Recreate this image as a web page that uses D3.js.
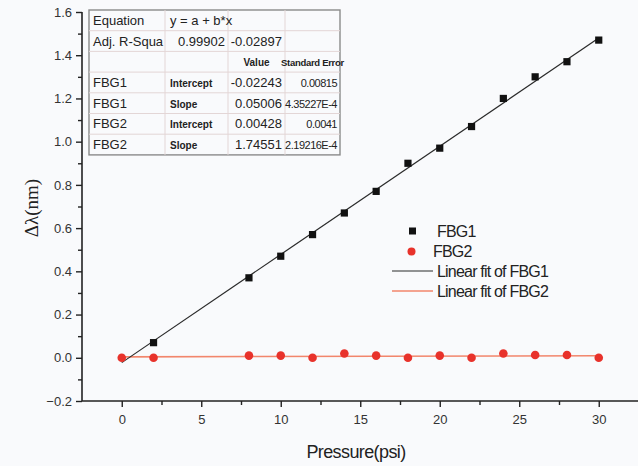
<!DOCTYPE html>
<html lang="en">
<head>
  <meta charset="utf-8">
  <title>FBG pressure response</title>
  <script src="https://cdn.jsdelivr.net/npm/d3@7"></script>
  <style>
    body { margin: 0; background: #f9fafc; }
    svg { display: block; }
    .tick text { font: 13px Arial, "Liberation Sans", sans-serif; fill: #333; }
    .tbl { font-family: Arial, "Liberation Sans", sans-serif; fill: #222; }
  </style>
</head>
<body>
<div id="chart"></div>
<script>
// measured points
const pressure = [0, 2, 8, 10, 12, 14, 16, 18, 20, 22, 24, 26, 28, 30];
const fbg1 = [0.0, 0.07, 0.37, 0.47, 0.57, 0.67, 0.77, 0.90, 0.97, 1.07, 1.20, 1.30, 1.37, 1.47];
const fbg2 = [0.0, 0.0, 0.01, 0.01, 0.0, 0.02, 0.01, 0.0, 0.01, 0.0, 0.02, 0.013, 0.013, 0.0];

// fit results (from the table)
const fit1 = { a: -0.02243, b: 0.05006 };
const fit2 = { a: 0.00428, b: 1.74551e-4 };

const xTicks = [0, 5, 10, 15, 20, 25, 30];
const yTicks = [-0.2, 0.0, 0.2, 0.4, 0.6, 0.8, 1.0, 1.2, 1.4, 1.6];

const tableRows = [
  ["Equation", "y = a + b*x", "", ""],
  ["Adj. R-Squa", "0.99902", "-0.02897", ""],
  ["", "", "Value", "Standard Error"],
  ["FBG1", "Intercept", "-0.02243", "0.00815"],
  ["FBG1", "Slope", "0.05006", "4.35227E-4"],
  ["FBG2", "Intercept", "0.00428", "0.0041"],
  ["FBG2", "Slope", "1.74551", "2.19216E-4"]
];

const W = 638, H = 466;
const svg = d3.select("#chart").append("svg").attr("width", W).attr("height", H);

const x = d3.scaleLinear().domain([-2.5, 32.5]).range([82, 638.5]);
const y = d3.scaleLinear().domain([-0.2, 1.6]).range([401, 12]);

// axes
const xAxis = svg.append("g").attr("transform", `translate(0,${y(-0.2)})`)
  .call(d3.axisBottom(x).tickValues(xTicks).tickFormat(d3.format("d")).tickSize(6).tickPadding(8));
svg.append("g").attr("transform", `translate(0,${y(-0.2)})`)
  .call(d3.axisBottom(x).tickValues(d3.range(2.5, 32.5, 5)).tickFormat("").tickSize(4))
  .select(".domain").remove();

const yAxis = svg.append("g").attr("transform", `translate(${x(-2.5)},0)`)
  .call(d3.axisLeft(y).tickValues(yTicks).tickFormat(d3.format(".1f")).tickSize(6).tickPadding(4));
svg.append("g").attr("transform", `translate(${x(-2.5)},0)`)
  .call(d3.axisLeft(y).tickValues(d3.range(-0.1, 1.6, 0.2)).tickFormat("").tickSize(4))
  .select(".domain").remove();

svg.selectAll(".domain").attr("stroke", "#222").attr("stroke-width", 1.6);
svg.selectAll(".tick line").attr("stroke", "#222").attr("stroke-width", 1.4);
xAxis.select(".domain").attr("d", `M${x(-2.5)},0H${x(32.5)}`);
yAxis.select(".domain").attr("d", `M0,${y(1.6)}V${y(-0.2)}`);

// axis titles
svg.append("text")
  .attr("x", 356).attr("y", 458)
  .attr("text-anchor", "middle")
  .attr("font-family", "Arial, 'Liberation Sans', sans-serif")
  .attr("font-size", 18).attr("letter-spacing", -0.6).attr("fill", "#222")
  .text("Pressure(psi)");
svg.append("text")
  .attr("transform", "translate(38,208) rotate(-90)")
  .attr("text-anchor", "middle")
  .attr("font-family", "'Liberation Serif', 'DejaVu Serif', serif")
  .attr("font-size", 19).attr("fill", "#222")
  .text("Δλ(nm)");

// fit lines
const fitLine = (f) => [[0, f.a], [30, f.a + f.b * 30]];
const line = d3.line().x(d => x(d[0])).y(d => y(d[1]));
svg.append("path").attr("d", line(fitLine(fit2)))
  .attr("fill", "none").attr("stroke", "#f2866c").attr("stroke-width", 1.6);
svg.append("path").attr("d", line(fitLine(fit1)))
  .attr("fill", "none").attr("stroke", "#2a2a2a").attr("stroke-width", 1.2);

// points
svg.append("g").selectAll("circle")
  .data(pressure.map((p, i) => [p, fbg2[i]]))
  .join("circle")
  .attr("cx", d => x(d[0])).attr("cy", d => y(d[1]))
  .attr("r", 4.3).attr("fill", "#e8322b");
svg.append("g").selectAll("rect")
  .data(pressure.map((p, i) => [p, fbg1[i]]).filter(d => d[0] > 0))
  .join("rect")
  .attr("x", d => x(d[0]) - 3.6).attr("y", d => y(d[1]) - 3.6)
  .attr("width", 7.2).attr("height", 7.2).attr("fill", "#111");

// results table
const colX = [89, 165, 228, 285, 340];
const rowH = 20.7, tblTop = 10;
const tbl = svg.append("g");
tbl.append("rect")
  .attr("x", colX[0]).attr("y", tblTop)
  .attr("width", colX[4] - colX[0]).attr("height", rowH * tableRows.length)
  .attr("fill", "#f9fafc").attr("stroke", "#8a8a8a").attr("stroke-width", 1.4);
for (let i = 1; i < tableRows.length; i++) {
  tbl.append("line")
    .attr("x1", colX[0]).attr("x2", colX[4])
    .attr("y1", tblTop + i * rowH).attr("y2", tblTop + i * rowH)
    .attr("stroke", "#e3d6d6").attr("stroke-width", 1);
}
for (let j = 1; j < 4; j++) {
  tbl.append("line")
    .attr("x1", colX[j]).attr("x2", colX[j])
    .attr("y1", tblTop).attr("y2", tblTop + rowH * tableRows.length)
    .attr("stroke", "#e3d6d6").attr("stroke-width", 1);
}
const small = new Set(["Intercept", "Slope", "Value", "Standard Error"]);
tableRows.forEach((row, i) => {
  row.forEach((txt, j) => {
    if (!txt) return;
    const cy = tblTop + i * rowH + rowH / 2 + 4.5;
    let tx, anchor, size = 13, ls = 0;
    if (j === 0) { tx = colX[0] + 4; anchor = "start"; }
    else if (i === 0 || small.has(txt) && j === 1) { tx = colX[j] + 5; anchor = "start"; }
    else if (i === 2) { tx = (colX[j] + colX[j + 1]) / 2; anchor = "middle"; }
    else { tx = colX[j + 1] - 3; anchor = "end"; }
    if (small.has(txt)) size = 10;
    if (j === 3 && i > 2) { size = 11; ls = -0.5; }
    if (i === 2 && j === 3) { size = 9.5; ls = -0.3; }
    tbl.append("text").attr("class", "tbl")
      .attr("x", tx).attr("y", cy).attr("text-anchor", anchor)
      .attr("font-size", size).attr("letter-spacing", ls)
      .attr("font-weight", small.has(txt) ? "bold" : "normal")
      .attr("fill", small.has(txt) ? "#333" : "#222")
      .text(txt);
  });
});

// legend
const leg = svg.append("g").attr("font-family", "Arial, 'Liberation Sans', sans-serif")
  .attr("font-size", 16).attr("letter-spacing", -0.8).attr("fill", "#222");
leg.append("rect").attr("x", 409).attr("y", 227.5).attr("width", 7).attr("height", 7).attr("fill", "#111");
leg.append("text").attr("x", 437).attr("y", 237).text("FBG1");
leg.append("circle").attr("cx", 411.5).attr("cy", 251.5).attr("r", 4).attr("fill", "#e8322b");
leg.append("text").attr("x", 433).attr("y", 257).text("FBG2");
leg.append("line").attr("x1", 392).attr("x2", 433).attr("y1", 271).attr("y2", 271)
  .attr("stroke", "#2a2a2a").attr("stroke-width", 1.2);
leg.append("text").attr("x", 437).attr("y", 277).text("Linear fit of FBG1");
leg.append("line").attr("x1", 392).attr("x2", 433).attr("y1", 291).attr("y2", 291)
  .attr("stroke", "#f2866c").attr("stroke-width", 1.6);
leg.append("text").attr("x", 437).attr("y", 297).text("Linear fit of FBG2");
</script>
</body>
</html>
